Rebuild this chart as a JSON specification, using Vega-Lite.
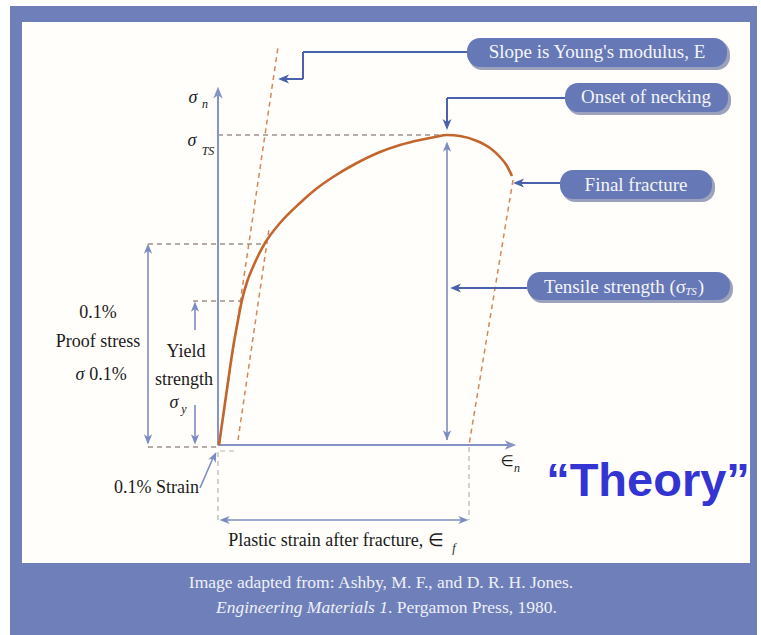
{
  "$schema": "https://vega.github.io/schema/vega-lite/v6.json",
  "width": 761,
  "height": 635,
  "autosize": {"type": "fit", "contains": "padding"},
  "padding": 0,
  "background": "#ffffff",
  "config": {"view": {"stroke": null}},
  "datasets": {
    "frame": [{"x": -208, "x2": 539, "y": 439, "y2": -190}],
    "inner": [{"x": -196, "x2": 532, "y": 423, "y2": -118}],
    "boxes": [
      {"x": 249, "x2": 509, "y": 407, "y2": 378},
      {"x": 347, "x2": 510, "y": 362, "y2": 333},
      {"x": 342, "x2": 494, "y": 275, "y2": 246},
      {"x": 309, "x2": 512, "y": 173, "y2": 145}
    ],
    "boxShadow": [
      {"x": 251, "x2": 512, "y": 404, "y2": 375},
      {"x": 349, "x2": 513, "y": 359, "y2": 330},
      {"x": 344, "x2": 497, "y": 272, "y2": 243},
      {"x": 311, "x2": 515, "y": 170, "y2": 142}
    ],
    "curve": [
      {"x": 1, "y": 0}, {"x": 3, "y": 14}, {"x": 5, "y": 28}, {"x": 7, "y": 42},
      {"x": 9, "y": 56}, {"x": 11, "y": 70}, {"x": 13, "y": 84}, {"x": 15, "y": 97},
      {"x": 18, "y": 114}, {"x": 21, "y": 130}, {"x": 24, "y": 145}, {"x": 29, "y": 163},
      {"x": 35, "y": 178}, {"x": 41, "y": 191}, {"x": 47, "y": 202}, {"x": 62, "y": 222},
      {"x": 82, "y": 242}, {"x": 98, "y": 256}, {"x": 115, "y": 268}, {"x": 137, "y": 281},
      {"x": 162, "y": 293}, {"x": 182, "y": 300}, {"x": 202, "y": 305}, {"x": 217, "y": 308},
      {"x": 229, "y": 310}, {"x": 242, "y": 309}, {"x": 259, "y": 304}, {"x": 272, "y": 297},
      {"x": 282, "y": 288}, {"x": 289, "y": 279}, {"x": 294, "y": 269}
    ],
    "dashOrange": [
      {"x": 1, "y": 0, "x2": 60, "y2": 398},
      {"x": 20, "y": 5, "x2": 51, "y2": 216},
      {"x": 295, "y": 265, "x2": 251, "y2": 0}
    ],
    "dashDark": [
      {"x": 0, "y": 310, "x2": 229, "y2": 310},
      {"x": -70, "y": 201, "x2": 47, "y2": 201},
      {"x": -25, "y": 144, "x2": 24, "y2": 144},
      {"x": -70, "y": -2, "x2": 0, "y2": -2}
    ],
    "dashGray": [
      {"x": 0, "y": -7, "x2": 0, "y2": -75},
      {"x": 251, "y": -2, "x2": 251, "y2": -75},
      {"x": 2, "y": -6, "x2": 20, "y2": -6}
    ],
    "axisLines": [
      {"x": 0, "y": 0, "x2": 0, "y2": 350},
      {"x": 0, "y": 0, "x2": 292, "y2": 0}
    ],
    "dimLines": [
      {"x": -70, "y": 2, "x2": -70, "y2": 199},
      {"x": -23, "y": 115, "x2": -23, "y2": 138},
      {"x": -23, "y": 40, "x2": -23, "y2": 6},
      {"x": 229, "y": 5, "x2": 229, "y2": 300},
      {"x": 5, "y": -75, "x2": 247, "y2": -75},
      {"x": -18, "y": -43, "x2": -5, "y2": -13}
    ],
    "callLines": [
      {"x": 85, "y": 393, "x2": 249, "y2": 393},
      {"x": 85, "y": 393, "x2": 85, "y2": 366},
      {"x": 85, "y": 366, "x2": 68, "y2": 366},
      {"x": 229, "y": 347, "x2": 347, "y2": 347},
      {"x": 229, "y": 347, "x2": 229, "y2": 322},
      {"x": 300, "y": 262, "x2": 342, "y2": 262},
      {"x": 236, "y": 157, "x2": 309, "y2": 157}
    ],
    "axisUp": [{"x": 0, "y": 352}],
    "axisRight": [{"x": 292, "y": 0}],
    "dimUp": [{"x": -70, "y": 196}, {"x": -23, "y": 138}, {"x": 229, "y": 298}],
    "dimDown": [{"x": -70, "y": 6}, {"x": -23, "y": 6}, {"x": 229, "y": 10}],
    "dimLeft": [{"x": 7, "y": -75}],
    "dimRight": [{"x": 245, "y": -75}],
    "dimDiag": [{"x": -4, "y": -12}],
    "callLeft": [{"x": 66, "y": 366}, {"x": 301, "y": 262}, {"x": 238, "y": 157}],
    "callDown": [{"x": 229, "y": 321}],
    "lblCenter": [
      {"x": -120, "y": 132, "t": "0.1%"},
      {"x": -120, "y": 103, "t": "Proof stress"},
      {"x": -110, "y": 70, "t": "0.1%"},
      {"x": -32, "y": 93, "t": "Yield"},
      {"x": -34, "y": 65, "t": "strength"},
      {"x": 118, "y": -96, "t": "Plastic strain after fracture, ∈"}
    ],
    "lblRight": [{"x": -19, "y": -43, "t": "0.1% Strain"}],
    "lblSigma": [
      {"x": -25, "y": 347, "t": "σ"},
      {"x": -26, "y": 304, "t": "σ"},
      {"x": -138, "y": 70, "t": "σ"},
      {"x": -44, "y": 42, "t": "σ"}
    ],
    "lblEps": [{"x": 289, "y": -16, "t": "∈"}],
    "lblSub": [
      {"x": -13, "y": 341, "t": "n"},
      {"x": -10, "y": 294, "t": "TS"},
      {"x": 299, "y": -23, "t": "n"},
      {"x": -34, "y": 36, "t": "y"},
      {"x": 236, "y": -103, "t": "f"}
    ],
    "boxText": [
      {"x": 379, "y": 393, "t": "Slope is Young's modulus, E"},
      {"x": 428, "y": 348, "t": "Onset of necking"},
      {"x": 418, "y": 260, "t": "Final fracture"}
    ],
    "boxTextRight": [{"x": 468, "y": 158, "t": "Tensile strength (σ"}],
    "boxTextSub": [{"x": 473, "y": 153, "t": "TS"}],
    "boxTextClose": [{"x": 483, "y": 158, "t": ")"}],
    "theory": [{"x": 430, "y": -37, "t": "“Theory”"}],
    "caption1": [{"x": 163, "y": -138, "t": "Image adapted from: Ashby, M. F., and D. R. H. Jones."}],
    "caption2i": [{"x": 170, "y": -163, "t": "Engineering Materials 1"}],
    "caption2n": [{"x": 170, "y": -163, "t": ". Pergamon Press, 1980."}]
  },
  "encoding": {
    "x": {"field": "x", "type": "quantitative", "scale": {"domain": [-218, 543], "nice": false, "zero": false}, "axis": null},
    "y": {"field": "y", "type": "quantitative", "scale": {"domain": [-190, 445], "nice": false, "zero": false}, "axis": null}
  },
  "layer": [
    {"data": {"name": "frame"}, "mark": {"type": "rect", "color": "#6e7fb9"}, "encoding": {"x2": {"field": "x2"}, "y2": {"field": "y2"}}},
    {"data": {"name": "inner"}, "mark": {"type": "rect", "color": "#fffefb"}, "encoding": {"x2": {"field": "x2"}, "y2": {"field": "y2"}}},
    {"data": {"name": "boxShadow"}, "mark": {"type": "rect", "color": "#4b5686", "opacity": 0.55, "cornerRadius": 13}, "encoding": {"x2": {"field": "x2"}, "y2": {"field": "y2"}}},
    {"data": {"name": "boxes"}, "mark": {"type": "rect", "color": "#6678b5", "cornerRadius": 13}, "encoding": {"x2": {"field": "x2"}, "y2": {"field": "y2"}}},
    {"data": {"name": "dashDark"}, "mark": {"type": "rule", "color": "#6a5a52", "strokeWidth": 1, "strokeDash": [5, 4]}, "encoding": {"x2": {"field": "x2"}, "y2": {"field": "y2"}}},
    {"data": {"name": "dashGray"}, "mark": {"type": "rule", "color": "#b4b4b4", "strokeWidth": 1.2, "strokeDash": [5, 4]}, "encoding": {"x2": {"field": "x2"}, "y2": {"field": "y2"}}},
    {"data": {"name": "dashOrange"}, "mark": {"type": "rule", "color": "#d3875a", "strokeWidth": 1.5, "strokeDash": [5, 4]}, "encoding": {"x2": {"field": "x2"}, "y2": {"field": "y2"}}},
    {"data": {"name": "axisLines"}, "mark": {"type": "rule", "color": "#8494c6", "strokeWidth": 2}, "encoding": {"x2": {"field": "x2"}, "y2": {"field": "y2"}}},
    {"data": {"name": "dimLines"}, "mark": {"type": "rule", "color": "#7b8cc4", "strokeWidth": 1.6}, "encoding": {"x2": {"field": "x2"}, "y2": {"field": "y2"}}},
    {"data": {"name": "callLines"}, "mark": {"type": "rule", "color": "#4a62ad", "strokeWidth": 2}, "encoding": {"x2": {"field": "x2"}, "y2": {"field": "y2"}}},
    {"data": {"name": "curve"}, "mark": {"type": "line", "color": "#c2662e", "strokeWidth": 2.6, "interpolate": "monotone"}},
    {"data": {"name": "axisUp"}, "mark": {"type": "point", "shape": "M0,-1L0.75,0.85L0,0.35L-0.75,0.85Z", "angle": 0, "size": 160, "filled": true, "opacity": 1, "strokeWidth": 0, "color": "#8494c6"}},
    {"data": {"name": "axisRight"}, "mark": {"type": "point", "shape": "M0,-1L0.75,0.85L0,0.35L-0.75,0.85Z", "angle": 90, "size": 160, "filled": true, "opacity": 1, "strokeWidth": 0, "color": "#8494c6"}},
    {"data": {"name": "dimUp"}, "mark": {"type": "point", "shape": "M0,-1L0.75,0.85L0,0.35L-0.75,0.85Z", "angle": 0, "size": 120, "filled": true, "opacity": 1, "strokeWidth": 0, "color": "#7b8cc4"}},
    {"data": {"name": "dimDown"}, "mark": {"type": "point", "shape": "M0,-1L0.75,0.85L0,0.35L-0.75,0.85Z", "angle": 180, "size": 120, "filled": true, "opacity": 1, "strokeWidth": 0, "color": "#7b8cc4"}},
    {"data": {"name": "dimLeft"}, "mark": {"type": "point", "shape": "M0,-1L0.75,0.85L0,0.35L-0.75,0.85Z", "angle": 270, "size": 120, "filled": true, "opacity": 1, "strokeWidth": 0, "color": "#7b8cc4"}},
    {"data": {"name": "dimRight"}, "mark": {"type": "point", "shape": "M0,-1L0.75,0.85L0,0.35L-0.75,0.85Z", "angle": 90, "size": 120, "filled": true, "opacity": 1, "strokeWidth": 0, "color": "#7b8cc4"}},
    {"data": {"name": "dimDiag"}, "mark": {"type": "point", "shape": "M0,-1L0.75,0.85L0,0.35L-0.75,0.85Z", "angle": 25, "size": 120, "filled": true, "opacity": 1, "strokeWidth": 0, "color": "#7b8cc4"}},
    {"data": {"name": "callLeft"}, "mark": {"type": "point", "shape": "M0,-1L0.75,0.85L0,0.35L-0.75,0.85Z", "angle": 270, "size": 140, "filled": true, "opacity": 1, "strokeWidth": 0, "color": "#4a62ad"}},
    {"data": {"name": "callDown"}, "mark": {"type": "point", "shape": "M0,-1L0.75,0.85L0,0.35L-0.75,0.85Z", "angle": 180, "size": 140, "filled": true, "opacity": 1, "strokeWidth": 0, "color": "#4a62ad"}},
    {"data": {"name": "lblCenter"}, "mark": {"type": "text", "font": "Liberation Serif", "fontSize": 18, "color": "#1a1a1a", "align": "center", "baseline": "middle"}, "encoding": {"text": {"field": "t"}}},
    {"data": {"name": "lblRight"}, "mark": {"type": "text", "font": "Liberation Serif", "fontSize": 18, "color": "#1a1a1a", "align": "right", "baseline": "middle"}, "encoding": {"text": {"field": "t"}}},
    {"data": {"name": "lblSigma"}, "mark": {"type": "text", "font": "Liberation Serif", "fontSize": 18, "fontStyle": "italic", "color": "#1a1a1a", "align": "center", "baseline": "middle"}, "encoding": {"text": {"field": "t"}}},
    {"data": {"name": "lblEps"}, "mark": {"type": "text", "font": "DejaVu Sans", "fontSize": 15, "color": "#1a1a1a", "align": "center", "baseline": "middle"}, "encoding": {"text": {"field": "t"}}},
    {"data": {"name": "lblSub"}, "mark": {"type": "text", "font": "Liberation Serif", "fontSize": 12, "fontStyle": "italic", "color": "#1a1a1a", "align": "center", "baseline": "middle"}, "encoding": {"text": {"field": "t"}}},
    {"data": {"name": "boxText"}, "mark": {"type": "text", "font": "Liberation Serif", "fontSize": 19, "color": "#f4f5fb", "align": "center", "baseline": "middle"}, "encoding": {"text": {"field": "t"}}},
    {"data": {"name": "boxTextRight"}, "mark": {"type": "text", "font": "Liberation Serif", "fontSize": 19, "color": "#f4f5fb", "align": "right", "baseline": "middle"}, "encoding": {"text": {"field": "t"}}},
    {"data": {"name": "boxTextSub"}, "mark": {"type": "text", "font": "Liberation Serif", "fontSize": 11, "fontStyle": "italic", "color": "#f4f5fb", "align": "center", "baseline": "middle"}, "encoding": {"text": {"field": "t"}}},
    {"data": {"name": "boxTextClose"}, "mark": {"type": "text", "font": "Liberation Serif", "fontSize": 19, "color": "#f4f5fb", "align": "center", "baseline": "middle"}, "encoding": {"text": {"field": "t"}}},
    {"data": {"name": "theory"}, "mark": {"type": "text", "font": "Liberation Sans", "fontSize": 47, "fontWeight": "bold", "color": "#3434d2", "align": "center", "baseline": "middle"}, "encoding": {"text": {"field": "t"}}},
    {"data": {"name": "caption1"}, "mark": {"type": "text", "font": "Liberation Serif", "fontSize": 17.5, "color": "#eef0f8", "align": "center", "baseline": "middle"}, "encoding": {"text": {"field": "t"}}},
    {"data": {"name": "caption2i"}, "mark": {"type": "text", "font": "Liberation Serif", "fontSize": 17.5, "fontStyle": "italic", "color": "#eef0f8", "align": "right", "baseline": "middle"}, "encoding": {"text": {"field": "t"}}},
    {"data": {"name": "caption2n"}, "mark": {"type": "text", "font": "Liberation Serif", "fontSize": 17.5, "color": "#eef0f8", "align": "left", "baseline": "middle"}, "encoding": {"text": {"field": "t"}}}
  ]
}
